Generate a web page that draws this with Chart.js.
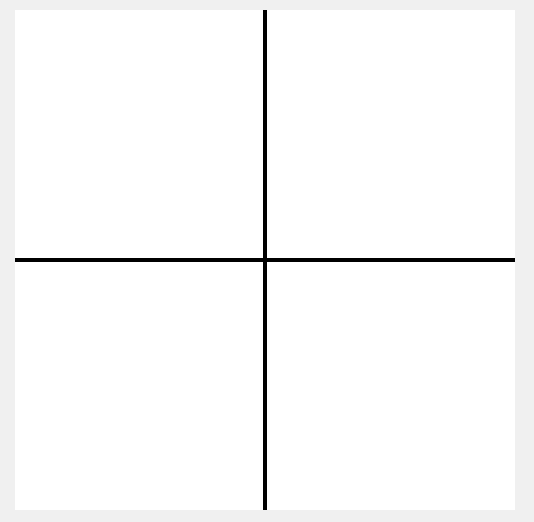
<!DOCTYPE html>
<html>
<head>
<meta charset="utf-8">
<script src="https://cdn.jsdelivr.net/npm/chart.js@4/dist/chart.umd.min.js"></script>
<style>
  html, body { margin: 0; padding: 0; background: #f0f0f0; }
  #wrap { width: 534px; height: 522px; }
</style>
</head>
<body>
<div id="wrap"><canvas id="chart" width="534" height="522"></canvas></div>
<script>
// two axis lines crossing at the origin
const hLineX = [-1, 1];
const hLineY = [0, 0];
const vLineX = [0, 0];
const vLineY = [-1, 1];

const toPoints = (xs, ys) => xs.map((x, i) => ({ x: x, y: ys[i] }));

// white plot area on the grey page
const areaFill = {
  id: 'areaFill',
  beforeDraw(chart) {
    const { ctx, chartArea: a } = chart;
    ctx.save();
    ctx.fillStyle = '#ffffff';
    ctx.fillRect(a.left, a.top, a.right - a.left, a.bottom - a.top);
    ctx.restore();
  }
};

new Chart(document.getElementById('chart').getContext('2d'), {
  type: 'scatter',
  data: {
    datasets: [
      { data: toPoints(hLineX, hLineY), showLine: true, borderColor: '#000000', borderWidth: 4, pointRadius: 0 },
      { data: toPoints(vLineX, vLineY), showLine: true, borderColor: '#000000', borderWidth: 4, pointRadius: 0 },
    ],
  },
  options: {
    responsive: false,
    animation: false,
    layout: { padding: { left: 15, top: 10, right: 19, bottom: 12 } },
    plugins: { legend: { display: false }, tooltip: { enabled: false } },
    scales: {
      x: { type: 'linear', min: -1, max: 1, display: false },
      y: { type: 'linear', min: -1, max: 1, display: false },
    },
  },
  plugins: [areaFill],
});
</script>
</body>
</html>
